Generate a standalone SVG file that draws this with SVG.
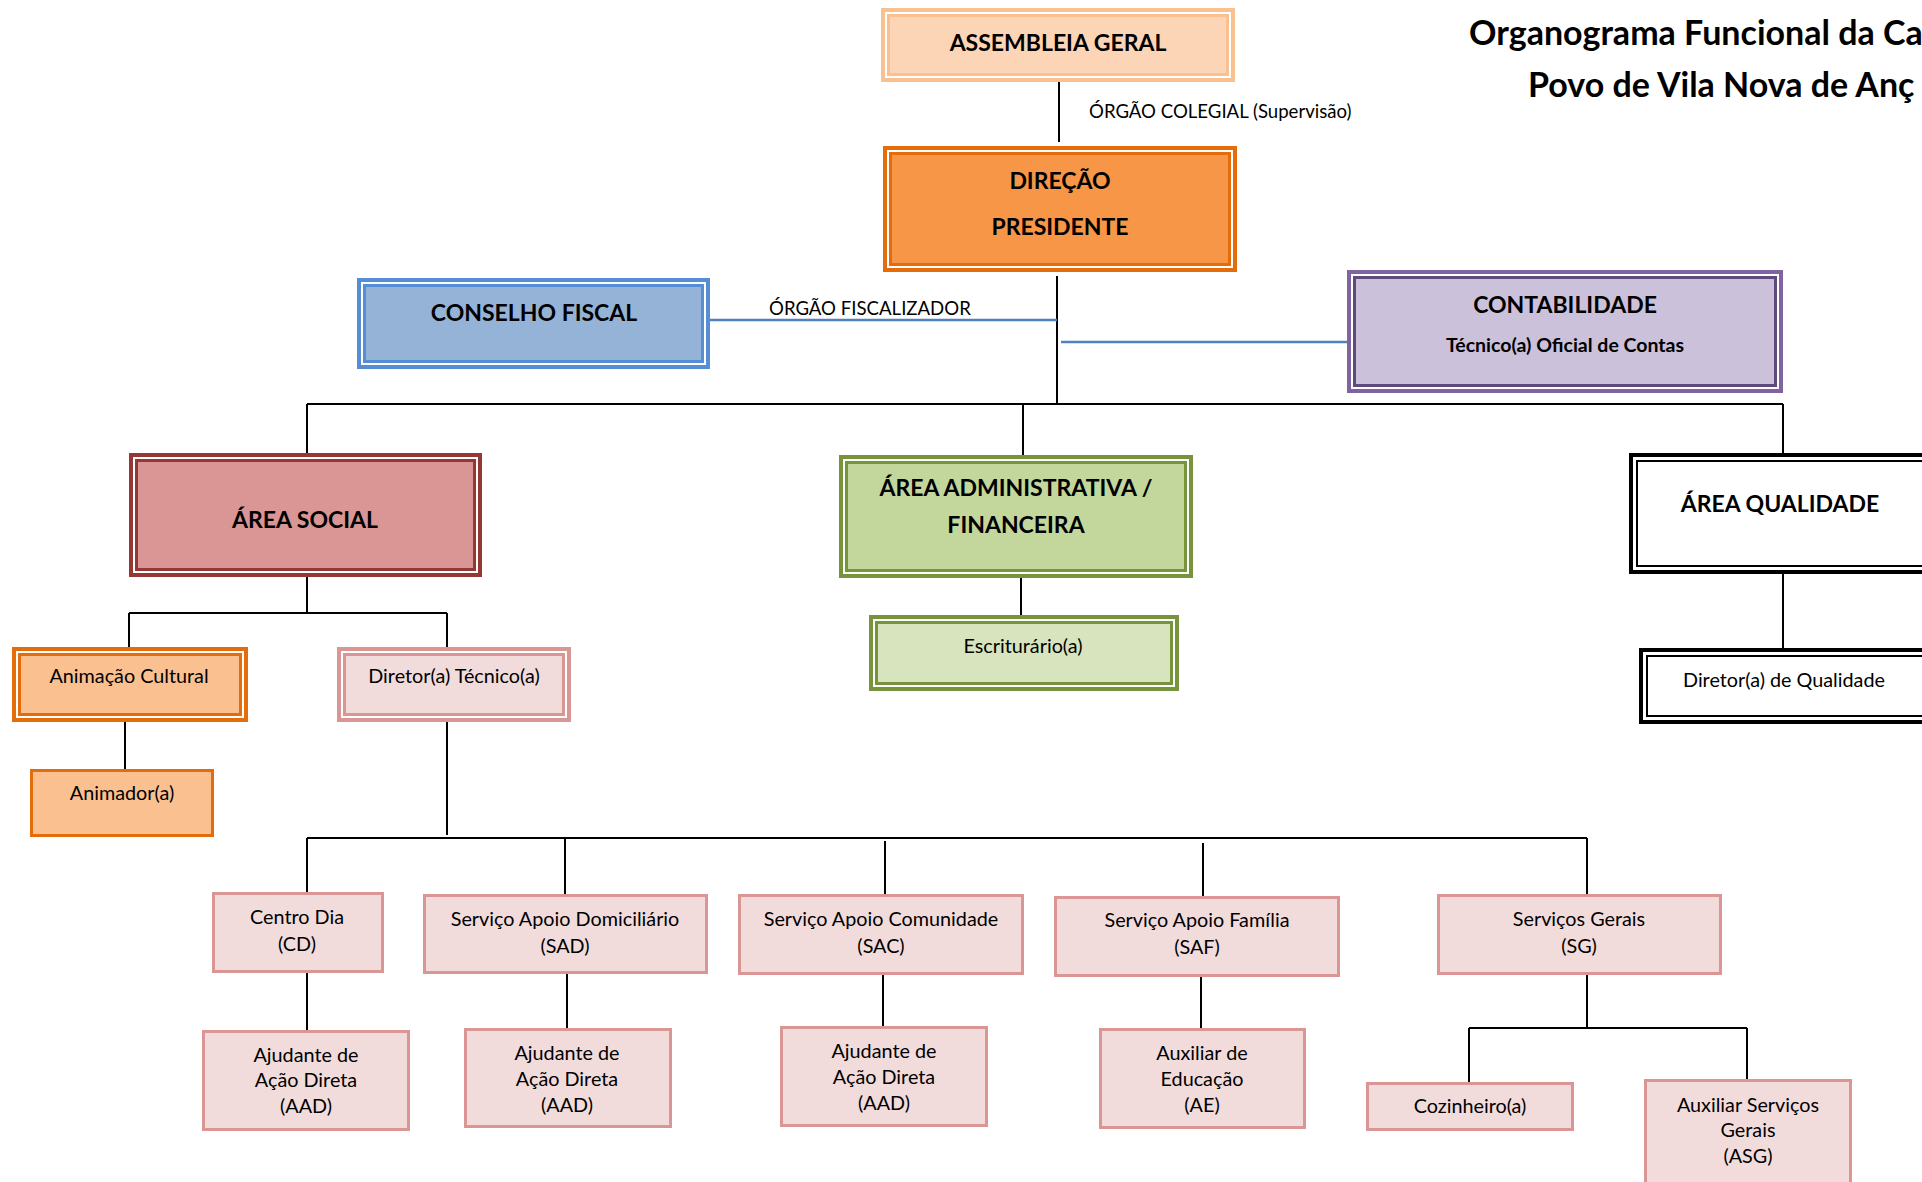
<svg xmlns="http://www.w3.org/2000/svg" width="1922" height="1182" viewBox="0 0 1922 1182">
<style>
text{font-family:Lato,"Liberation Sans",sans-serif;fill:#000}
.h{font-weight:bold;font-size:23px;text-anchor:middle}
.s{font-size:19.8px;text-anchor:middle}
.sb{font-size:19.5px;font-weight:bold;text-anchor:middle}
.lbl{font-size:18.6px}
.title{font-weight:bold;font-size:34px}
.o{stroke-width:4;fill:#fff}
.i{stroke-width:3}
.single{fill:#F2DCDB;stroke:#D99694;stroke-width:3}
.ln{stroke:#000;stroke-width:2;fill:none}
.bl{stroke:#4F81BD;stroke-width:2.5;fill:none}
</style>
<rect width="1922" height="1182" fill="#fff"/>
<g id="title">
<text class="title" x="1469" y="45">Organograma Funcional da Ca</text>
<text class="title" x="1528" y="97">Povo de Vila Nova de Anç</text>
</g>
<g id="connectors">
<line class="ln" x1="1059" y1="82" x2="1059" y2="142"/>
<line class="ln" x1="1057" y1="276" x2="1057" y2="404"/>
<line class="ln" x1="307" y1="404" x2="1783" y2="404"/>
<line class="ln" x1="307" y1="404" x2="307" y2="453"/>
<line class="ln" x1="1023" y1="404" x2="1023" y2="455"/>
<line class="ln" x1="1783" y1="404" x2="1783" y2="453"/>
<line class="bl" x1="710" y1="320" x2="1057" y2="320"/>
<line class="bl" x1="1061" y1="342" x2="1347" y2="342"/>
<line class="ln" x1="307" y1="577" x2="307" y2="613"/>
<line class="ln" x1="129" y1="613" x2="447" y2="613"/>
<line class="ln" x1="129" y1="613" x2="129" y2="647"/>
<line class="ln" x1="447" y1="613" x2="447" y2="647"/>
<line class="ln" x1="125" y1="722" x2="125" y2="769"/>
<line class="ln" x1="447" y1="722" x2="447" y2="835"/>
<line class="ln" x1="307" y1="838" x2="1587" y2="838"/>
<line class="ln" x1="307" y1="838" x2="307" y2="892"/>
<line class="ln" x1="565" y1="838" x2="565" y2="894"/>
<line class="ln" x1="885" y1="841" x2="885" y2="894"/>
<line class="ln" x1="1203" y1="843" x2="1203" y2="896"/>
<line class="ln" x1="1587" y1="838" x2="1587" y2="894"/>
<line class="ln" x1="307" y1="973" x2="307" y2="1030"/>
<line class="ln" x1="567" y1="974" x2="567" y2="1028"/>
<line class="ln" x1="883" y1="975" x2="883" y2="1026"/>
<line class="ln" x1="1201" y1="977" x2="1201" y2="1028"/>
<line class="ln" x1="1587" y1="975" x2="1587" y2="1028"/>
<line class="ln" x1="1469" y1="1028" x2="1747" y2="1028"/>
<line class="ln" x1="1469" y1="1028" x2="1469" y2="1082"/>
<line class="ln" x1="1747" y1="1028" x2="1747" y2="1079"/>
<line class="ln" x1="1021" y1="578" x2="1021" y2="615"/>
<line class="ln" x1="1783" y1="574" x2="1783" y2="648"/>
<text class="lbl" x="1089" y="118">ÓRGÃO COLEGIAL (Supervisão)</text>
<text class="lbl" x="769" y="315">ÓRGÃO FISCALIZADOR</text>
</g>
<g id="assembleia">
<rect class="o" x="883" y="10" width="350" height="70" stroke="#FAC08F"/>
<rect class="i" x="888.5" y="15.5" width="339" height="59" stroke="#FAC08F" fill="#FBD5B5"/>
<text class="h" x="1058" y="51">ASSEMBLEIA GERAL</text>
</g>
<g id="direcao">
<rect class="o" x="885" y="148" width="350" height="122" stroke="#E46C0A"/>
<rect class="i" x="890.5" y="153.5" width="339" height="111" stroke="#E46C0A" fill="#F79646"/>
<text class="h" x="1060" y="189">DIREÇÃO</text>
<text class="h" x="1060" y="235">PRESIDENTE</text>
</g>
<g id="conselho">
<rect class="o" x="359" y="280" width="349" height="87" stroke="#558ED5"/>
<rect class="i" x="364.5" y="285.5" width="338" height="76" stroke="#558ED5" fill="#95B3D7"/>
<text class="h" x="534" y="321">CONSELHO FISCAL</text>
</g>
<g id="contabilidade">
<rect class="o" x="1349" y="272" width="432" height="119" stroke="#8064A2"/>
<rect class="i" x="1354.5" y="277.5" width="421" height="108" stroke="#604A7B" fill="#CCC1DA"/>
<text class="h" x="1565" y="313">CONTABILIDADE</text>
<text class="sb" x="1565" y="352">Técnico(a) Oficial de Contas</text>
</g>
<g id="area-social">
<rect class="o" x="131" y="455" width="349" height="120" stroke="#953735"/>
<rect class="i" x="136.5" y="460.5" width="338" height="109" stroke="#953735" fill="#D99694"/>
<text class="h" x="305" y="528">ÁREA SOCIAL</text>
</g>
<g id="area-admin">
<rect class="o" x="841" y="457" width="350" height="119" stroke="#77933C"/>
<rect class="i" x="846.5" y="462.5" width="339" height="108" stroke="#77933C" fill="#C3D69B"/>
<text class="h" x="1016" y="496">ÁREA ADMINISTRATIVA /</text>
<text class="h" x="1016" y="533">FINANCEIRA</text>
</g>
<g id="area-qualidade">
<rect class="o" x="1631" y="455" width="300" height="117" stroke="#000"/>
<rect x="1637" y="461" width="290" height="105" stroke="#000" stroke-width="2" fill="#fff"/>
<text class="h" x="1780" y="512">ÁREA QUALIDADE</text>
</g>
<g id="animacao">
<rect class="o" x="14" y="649" width="232" height="71" stroke="#E46C0A"/>
<rect class="i" x="19.5" y="654.5" width="221" height="60" stroke="#E46C0A" fill="#FAC090"/>
<text class="s" x="129" y="683">Animação Cultural</text>
</g>
<g id="diretor-tecnico">
<rect class="o" x="339" y="649" width="230" height="71" stroke="#D99694"/>
<rect class="i" x="344.5" y="654.5" width="219" height="60" stroke="#D99694" fill="#F2DCDB"/>
<text class="s" x="454" y="683">Diretor(a) Técnico(a)</text>
</g>
<g id="escriturario">
<rect class="o" x="871" y="617" width="306" height="72" stroke="#77933C"/>
<rect class="i" x="876.5" y="622.5" width="295" height="61" stroke="#77933C" fill="#D7E4BD"/>
<text class="s" x="1023" y="653">Escriturário(a)</text>
</g>
<g id="diretor-qualidade">
<rect class="o" x="1641" y="650" width="290" height="72" stroke="#000"/>
<rect x="1647" y="656" width="280" height="60" stroke="#000" stroke-width="2" fill="#fff"/>
<text class="s" x="1784" y="687">Diretor(a) de Qualidade</text>
</g>
<g id="animador">
<rect x="31.5" y="770.5" width="181" height="65" fill="#FAC090" stroke="#E46C0A" stroke-width="3"/>
<text class="s" x="122" y="800">Animador(a)</text>
</g>
<g id="centro-dia">
<rect class="single" x="213.5" y="893.5" width="169" height="78"/>
<text class="s" x="297" y="924">Centro Dia</text>
<text class="s" x="297" y="951">(CD)</text>
</g>
<g id="sad">
<rect class="single" x="424.5" y="895.5" width="282" height="77"/>
<text class="s" x="565" y="926">Serviço Apoio Domiciliário</text>
<text class="s" x="565" y="953">(SAD)</text>
</g>
<g id="sac">
<rect class="single" x="739.5" y="895.5" width="283" height="78"/>
<text class="s" x="881" y="926">Serviço Apoio Comunidade</text>
<text class="s" x="881" y="953">(SAC)</text>
</g>
<g id="saf">
<rect class="single" x="1055.5" y="897.5" width="283" height="78"/>
<text class="s" x="1197" y="927">Serviço Apoio Família</text>
<text class="s" x="1197" y="954">(SAF)</text>
</g>
<g id="sg">
<rect class="single" x="1438.5" y="895.5" width="282" height="78"/>
<text class="s" x="1579" y="926">Serviços Gerais</text>
<text class="s" x="1579" y="953">(SG)</text>
</g>
<g id="aad-cd">
<rect class="single" x="203.5" y="1031.5" width="205" height="98"/>
<text class="s" x="306" y="1062">Ajudante de</text>
<text class="s" x="306" y="1087">Ação Direta</text>
<text class="s" x="306" y="1113">(AAD)</text>
</g>
<g id="aad-sad">
<rect class="single" x="465.5" y="1029.5" width="205" height="97"/>
<text class="s" x="567" y="1060">Ajudante de</text>
<text class="s" x="567" y="1086">Ação Direta</text>
<text class="s" x="567" y="1112">(AAD)</text>
</g>
<g id="aad-sac">
<rect class="single" x="781.5" y="1027.5" width="205" height="98"/>
<text class="s" x="884" y="1058">Ajudante de</text>
<text class="s" x="884" y="1084">Ação Direta</text>
<text class="s" x="884" y="1110">(AAD)</text>
</g>
<g id="ae">
<rect class="single" x="1100.5" y="1029.5" width="204" height="98"/>
<text class="s" x="1202" y="1060">Auxiliar de</text>
<text class="s" x="1202" y="1086">Educação</text>
<text class="s" x="1202" y="1112">(AE)</text>
</g>
<g id="cozinheiro">
<rect class="single" x="1367.5" y="1083.5" width="205" height="46"/>
<text class="s" x="1470" y="1113">Cozinheiro(a)</text>
</g>
<g id="asg">
<rect class="single" x="1645.5" y="1080.5" width="205" height="108"/>
<text class="s" x="1748" y="1112">Auxiliar Serviços</text>
<text class="s" x="1748" y="1137">Gerais</text>
<text class="s" x="1748" y="1163">(ASG)</text>
</g>
</svg>
